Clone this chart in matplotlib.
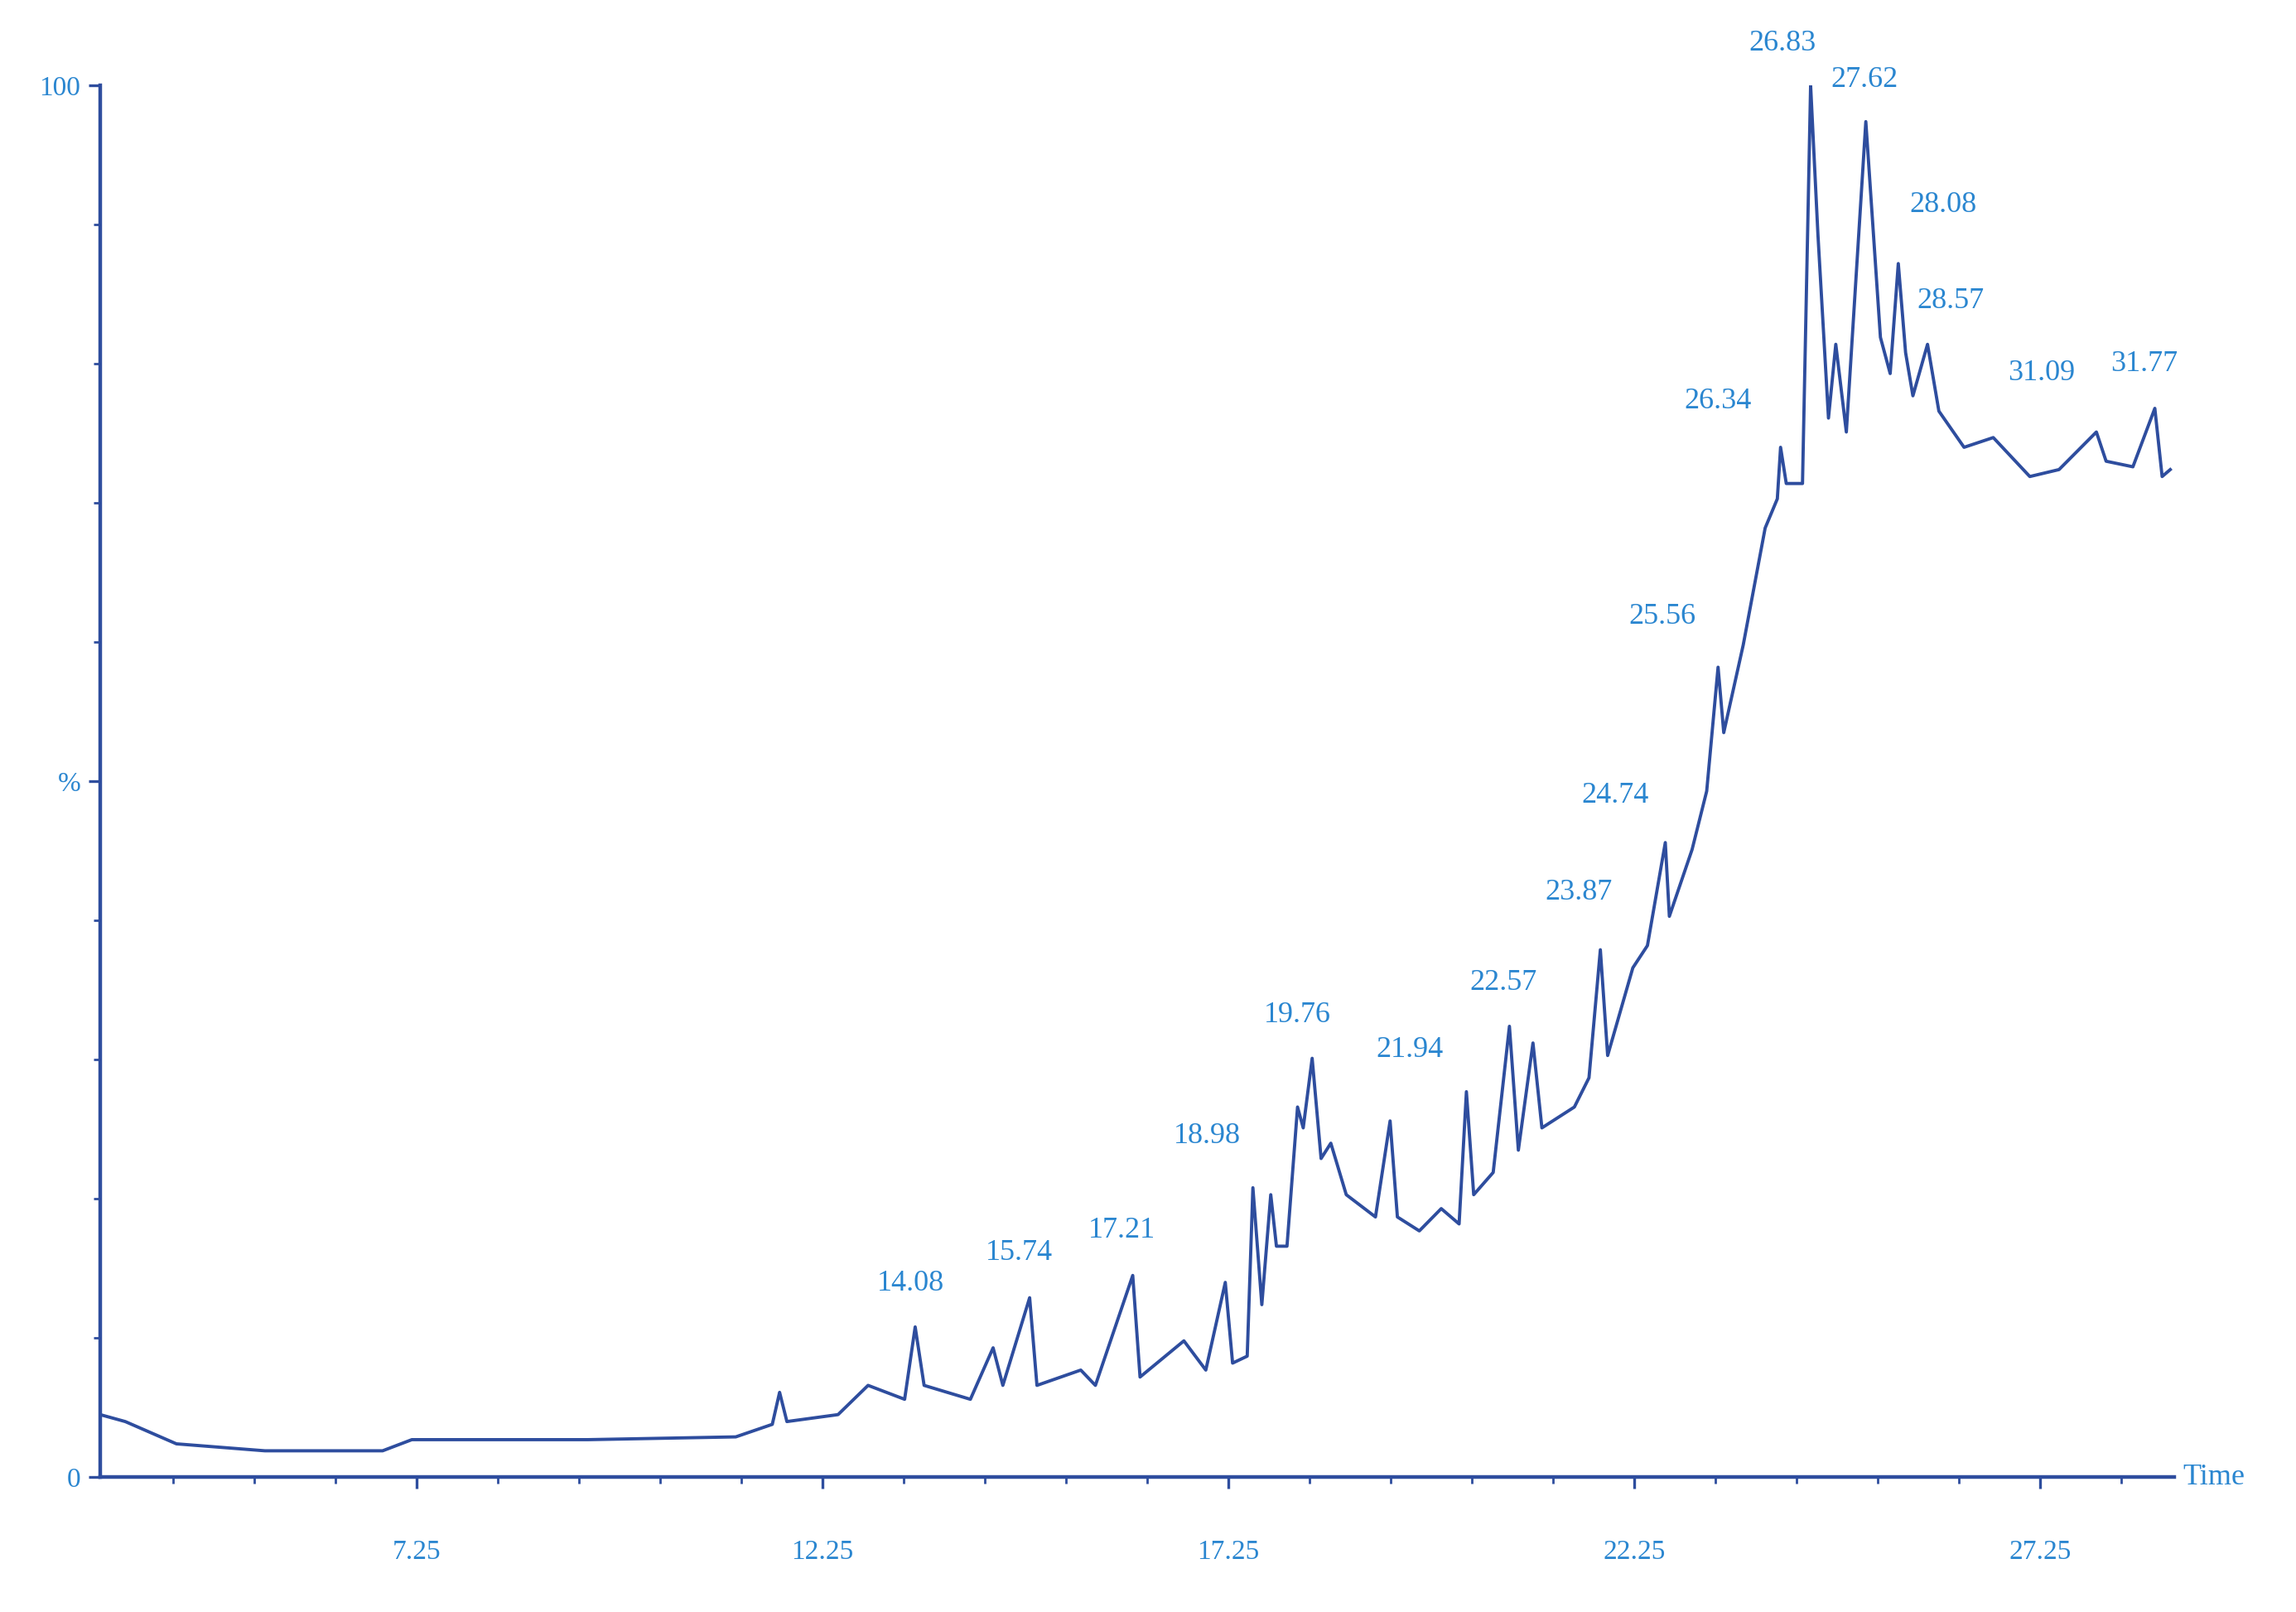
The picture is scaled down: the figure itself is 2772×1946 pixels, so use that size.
import matplotlib
matplotlib.use('Agg')
import matplotlib.pyplot as plt
import numpy as np

# chromatogram trace (time, relative intensity %)
time = [3.35, 3.66, 4.29, 5.38, 6.83, 7.19, 9.36, 11.18, 11.63, 11.72, 11.81, 12.44,
        12.81, 13.26, 13.39, 13.50, 14.07, 14.35, 14.47, 14.80, 14.89, 15.43, 15.61,
        16.07, 16.16, 16.70, 16.97, 17.21, 17.30, 17.48, 17.55, 17.66, 17.77, 17.84,
        17.97, 18.10, 18.17, 18.28, 18.39, 18.51, 18.70, 19.06, 19.24, 19.33, 19.60,
        19.87, 20.09, 20.18, 20.27, 20.51, 20.71, 20.82, 21.00, 21.11, 21.51, 21.69,
        21.83, 21.92, 22.23, 22.41, 22.63, 22.68, 22.96, 23.14, 23.28, 23.35, 23.59,
        23.86, 24.01, 24.05, 24.12, 24.32, 24.42, 24.51, 24.64, 24.73, 24.86, 25.10,
        25.28, 25.40, 25.50, 25.59, 25.68, 25.86, 26.00, 26.31, 26.67, 27.12, 27.48,
        27.94, 28.06, 28.39, 28.66, 28.75, 28.85]
intensity = [4.5, 4.0, 2.4, 1.9, 1.9, 2.7, 2.7, 2.9, 3.8, 6.1, 4.0, 4.5,
             6.6, 5.6, 10.8, 6.6, 5.6, 9.3, 6.6, 12.9, 6.6, 7.7, 6.6,
             14.5, 7.2, 9.8, 7.7, 14.0, 8.2, 8.7, 20.8, 12.4, 20.3, 16.6,
             16.6, 26.6, 25.1, 30.1, 22.9, 24.0, 20.3, 18.7, 25.6, 18.7, 17.7,
             19.3, 18.2, 27.7, 20.3, 21.9, 32.4, 23.5, 31.2, 25.1, 26.6, 28.7,
             37.9, 30.3, 36.6, 38.2, 45.6, 40.3, 45.1, 49.3, 58.2, 53.5, 59.8,
             68.2, 70.3, 74.0, 71.4, 71.4, 100.0, 89.3, 76.1, 81.4, 75.1, 97.4,
             81.9, 79.3, 87.2, 80.8, 77.7, 81.4, 76.6, 74.0, 74.7, 71.9, 72.4,
             75.1, 73.0, 72.6, 76.8, 71.9, 72.4]

# peak annotations: label, time and intensity of the label centre
peak_labels = ['14.08', '15.74', '17.21', '18.98', '19.76', '21.94', '22.57', '23.87',
               '24.74', '25.56', '26.34', '26.83', '27.62', '28.08', '28.57', '31.09', '31.77']
label_t = [13.33, 14.67, 15.94, 16.99, 18.10, 19.48, 20.64, 21.56,
           22.01, 22.59, 23.28, 24.07, 25.08, 26.05, 26.14, 27.26, 28.53]
label_i = [13.9, 16.1, 17.7, 24.5, 33.2, 30.7, 35.5, 42.0,
           49.0, 61.8, 77.3, 103.0, 100.4, 91.4, 84.5, 79.3, 80.0]

tick_pos = [7.25, 12.25, 17.25, 22.25, 27.25]
minor_pos = [4.25, 5.25, 6.25, 8.25, 9.25, 10.25, 11.25, 13.25, 14.25, 15.25, 16.25,
             18.25, 19.25, 20.25, 21.25, 23.25, 24.25, 25.25, 26.25, 28.25]

line_c = '#2e4d9e'
text_c = '#2a86d0'
serif = 'Liberation Serif'

fig = plt.figure(figsize=(13.86, 9.73), dpi=200)
ax = fig.add_axes([0.0436, 0.0836, 0.9034, 0.8634])
ax.plot(time, intensity, color=line_c, lw=1.4)
ax.set_xlim(3.35, 28.9)
ax.set_ylim(0, 100)

for s in ['top', 'right']:
    ax.spines[s].set_visible(False)
for s in ['left', 'bottom']:
    ax.spines[s].set_color(line_c)
    ax.spines[s].set_linewidth(1.6)

ax.set_xticks(tick_pos)
ax.set_xticklabels([f'{t:.2f}' for t in tick_pos])
ax.set_xticks(minor_pos, minor=True)
ax.set_yticks([0, 50, 100])
ax.set_yticklabels(['0', '%', '100'])
ax.set_yticks(np.arange(10, 100, 10), minor=True)
ax.tick_params(axis='both', colors=line_c, labelcolor=text_c, labelsize=12,
               direction='out', length=5, width=1.2)
ax.tick_params(axis='both', which='minor', colors=line_c, length=3, width=1)
ax.tick_params(axis='x', pad=22)
for lab in ax.get_xticklabels() + ax.get_yticklabels():
    lab.set_family(serif)

ax.text(29.0, 0, 'Time', color=text_c, fontsize=13, family=serif,
        va='center', ha='left', clip_on=False)

for lab, t, i in zip(peak_labels, label_t, label_i):
    ax.text(t, i, lab, color=text_c, fontsize=13, family=serif,
            ha='center', va='center', clip_on=False)

fig.savefig('out.png', dpi=200)
